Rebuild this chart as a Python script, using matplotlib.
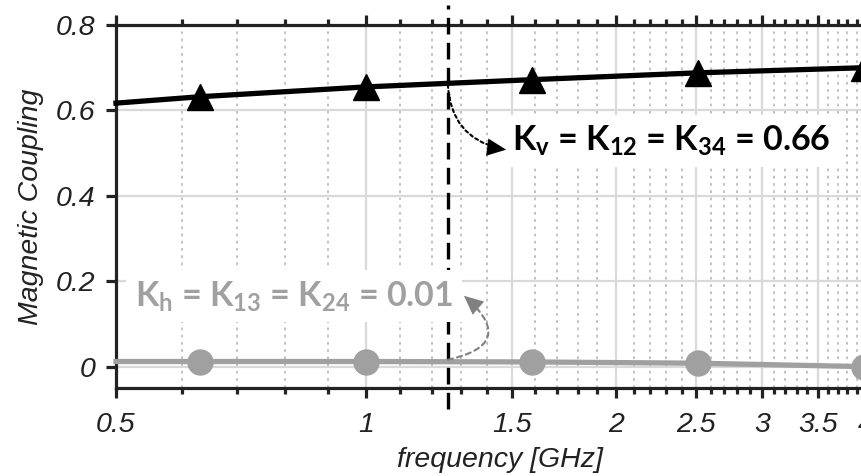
import numpy as np
import matplotlib
matplotlib.use('Agg')
import matplotlib.pyplot as plt
from matplotlib.ticker import FixedLocator, NullFormatter

# data
freq = [0.5, 0.631, 1.0, 1.585, 2.512, 3.981]
k_v = [0.617, 0.632, 0.655, 0.672, 0.688, 0.700]
k_h = [0.012, 0.012, 0.012, 0.011, 0.008, 0.0]
marker_idx = [1, 2, 3, 4, 5]
f_cut = 1.255
major_x = [0.5, 1, 1.5, 2, 2.5, 3, 3.5, 4]
major_x_labels = ['0.5', '1', '1.5', '2', '2.5', '3', '3.5', '4']
minor_x = [0.6, 0.7, 0.8, 0.9, 1.1, 1.2, 1.3, 1.4, 1.6, 1.7, 1.8, 1.9,
           2.1, 2.2, 2.3, 2.4, 2.6, 2.7, 2.8, 2.9, 3.1, 3.2, 3.3, 3.4,
           3.6, 3.7, 3.8, 3.9]
y_ticks = [0, 0.2, 0.4, 0.6, 0.8]
y_labels = ['0', '0.2', '0.4', '0.6', '0.8']

plt.rcParams['mathtext.fontset'] = 'custom'
plt.rcParams['mathtext.bf'] = 'Lato:bold'
plt.rcParams['mathtext.rm'] = 'Lato:bold'

dark = '#222222'
grey = '#a0a0a0'

fig = plt.figure(figsize=(8.61, 4.76), dpi=100)
ax = fig.add_axes([0.1347, 0.1849, 0.8915, 0.7626])
ax.set_xscale('log')
ax.set_xlim(0.5, 4.2)
ax.set_ylim(-0.05, 0.8)

# grid
ax.xaxis.set_major_locator(FixedLocator(major_x))
ax.xaxis.set_minor_locator(FixedLocator(minor_x))
ax.xaxis.set_minor_formatter(NullFormatter())
ax.set_xticklabels(major_x_labels)
ax.set_yticks(y_ticks)
ax.set_yticklabels(y_labels)
ax.grid(True, which='major', color='#d9d9d9', lw=1.6, zorder=0)
ax.grid(True, which='minor', axis='x', color='#bdbdbd', lw=1.3,
        linestyle=(0, (1.5, 2.5)), zorder=0)
ax.set_axisbelow(True)

for s in ax.spines.values():
    s.set_color(dark)
    s.set_linewidth(2.3)
ax.spines['right'].set_visible(False)

ax.tick_params(axis='x', which='major', top=True, direction='out', length=7,
               width=2.3, color=dark, labelsize=20.5, labelcolor=dark, pad=10)
ax.tick_params(axis='x', which='minor', top=True, direction='out', length=4,
               width=2.3, color=dark)
ax.tick_params(axis='y', which='major', direction='out', length=7, width=2.3,
               color=dark, labelsize=20.5, labelcolor=dark, pad=8)
for lab in ax.get_xticklabels() + ax.get_yticklabels():
    lab.set_fontfamily('Liberation Sans')
    lab.set_fontstyle('italic')

# data lines
ax.plot(freq, k_v, color='black', lw=3.8, marker='^', markersize=19,
        markevery=marker_idx, zorder=5, clip_on=False)
ax.plot(freq, k_h, color=grey, lw=3.8, marker='o', markersize=18,
        markevery=marker_idx, zorder=5, clip_on=False)

# cut-off line
ax.plot([f_cut, f_cut], [-0.10, 0.847], color='black', lw=2.4,
        linestyle=(0, (5, 2.5)), clip_on=False, zorder=6)

# labels
ax.text(1.50, 0.528, r'K$_\mathbf{v}$ = K$_\mathbf{12}$ = K$_\mathbf{34}$ = 0.66',
        fontfamily='Lato', fontweight='bold', fontsize=24.5, color='black',
        ha='left', va='center', zorder=7,
        bbox=dict(boxstyle='square,pad=0.25', fc='white', ec='none'))
ax.text(0.527, 0.165, r'K$_\mathbf{h}$ = K$_\mathbf{13}$ = K$_\mathbf{24}$ = 0.01',
        fontfamily='Lato', fontweight='bold', fontsize=24.5, color=grey,
        ha='left', va='center', zorder=7,
        bbox=dict(boxstyle='square,pad=0.25', fc='white', ec='none'))

# curved dotted pointers, heads drawn separately so they stay solid
head = '-|>,head_length=0.55,head_width=0.25'
kv_end = (1.475, 0.508)
kh_end = (1.312, 0.166)
ax.annotate('', xy=kv_end, xytext=(f_cut, 0.66),
            arrowprops=dict(arrowstyle='-', color='black', lw=1.5,
                            shrinkA=0, shrinkB=5, linestyle=(0, (1.5, 1.5)),
                            connectionstyle='arc3,rad=0.4'), zorder=8)
ax.annotate('', xy=kv_end, xytext=(-15.7, 2.1), textcoords='offset points',
            arrowprops=dict(arrowstyle=head, color='black', lw=0,
                            shrinkA=0, shrinkB=0, mutation_scale=25), zorder=8)
ax.annotate('', xy=kh_end, xytext=(f_cut, 0.016),
            arrowprops=dict(arrowstyle='-', color='#808080', lw=1.5,
                            shrinkA=0, shrinkB=5, linestyle=(0, (2.5, 2)),
                            connectionstyle='arc3,rad=1.0'), zorder=8)
ax.annotate('', xy=kh_end, xytext=(12, -10.3), textcoords='offset points',
            arrowprops=dict(arrowstyle=head, color='#808080', lw=0,
                            shrinkA=0, shrinkB=0, mutation_scale=25), zorder=8)

ax.set_ylabel('Magnetic Coupling', fontfamily='Liberation Sans', fontstyle='italic',
              fontsize=20.5, color=dark, labelpad=8)
ax.set_xlabel('frequency [GHz]', fontfamily='Liberation Sans', fontstyle='italic',
              fontsize=20.5, color=dark, labelpad=7)

fig.savefig('out.png', dpi=100)
